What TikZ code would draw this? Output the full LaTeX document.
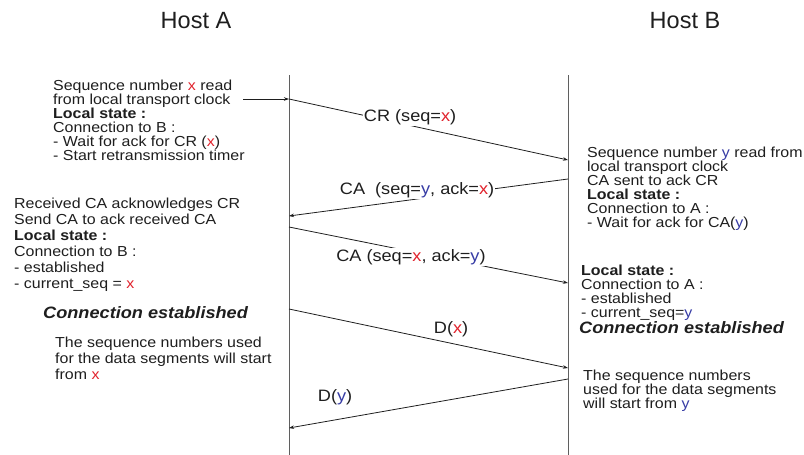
\documentclass[tikz,border=0pt]{standalone}
\usepackage{fontspec}
\setmainfont{Liberation Sans}
\newfontfamily\bodyfont[FakeStretch=1.1]{Liberation Sans}
\usetikzlibrary{arrows.meta}

\definecolor{ink}{RGB}{30,30,30}
\definecolor{seqred}{RGB}{225,35,45}
\definecolor{seqblue}{RGB}{55,60,165}
\definecolor{lifegray}{RGB}{95,95,95}
\newcommand{\seqx}{\textcolor{seqred}{x}}
\newcommand{\seqy}{\textcolor{seqblue}{y}}

\tikzset{
  host/.style={font=\fontsize{23.5}{26}\selectfont, text=ink},
  note/.style={anchor=north west, inner sep=0pt, align=left, text=ink,
    font=\bodyfont\fontsize{14.5}{14}\selectfont},
  loose/.style={font=\bodyfont\fontsize{14.5}{16}\selectfont},
  est/.style={anchor=north west, inner sep=0pt, text=ink,
    font=\bodyfont\fontsize{16.5}{18}\selectfont\bfseries\itshape},
  msg/.style={font=\bodyfont\fontsize{16.5}{18}\selectfont, text=ink,
    fill=white, inner sep=1pt},
  lifeline/.style={draw=lifegray, line width=1pt},
  seg/.style={draw=ink, line width=0.8pt}
}

\begin{document}
\begin{tikzpicture}[x=1pt, y=-1pt, >={Stealth[length=5pt, width=3.5pt]}]
  \useasboundingbox (0,0) rectangle (804,455);
  \node[host] (hA) at (196,21) {Host A};
  \node[host] (hB) at (685,21) {Host B};
  % lifelines
  \coordinate (topA) at (289,75); \coordinate (botA) at (289,455);
  \coordinate (topB) at (568,75); \coordinate (botB) at (568,455);
  \draw[lifeline] (topA) -- (botA);
  \draw[lifeline] (topB) -- (botB);
  % points where the segments leave and reach the hosts
  \coordinate (a0) at (243,99);
  \coordinate (a1) at (289,99); \coordinate (b1) at (568,160);
  \coordinate (b2) at (568,179); \coordinate (a2) at (289,216);
  \coordinate (a3) at (289,227); \coordinate (b3) at (568,283);
  \coordinate (a4) at (289,309); \coordinate (b4) at (568,368);
  \coordinate (b5) at (568,379); \coordinate (a5) at (289,428);
  % host A side
  \node[note] (sendA) at (53,80) {Sequence number \seqx{} read\\
    from local transport clock\\ \textbf{Local state :}\\ Connection to B :\\
    - Wait for ack for CR (\seqx)\\ - Start retransmission timer};
  \node[note, loose] (ackA) at (14,197.5) {Received CA acknowledges CR\\
    Send CA to ack received CA\\ \textbf{Local state :}\\ Connection to B :\\
    - established\\ - current\_seq = \seqx};
  \node[est] (estA) at (43,306) {Connection established};
  \node[note, loose] (dataA) at (55,336.5) {The sequence numbers used\\
    for the data segments will start\\ from \seqx};
  % host B side
  \node[note] (recvB) at (587,146.5) {Sequence number \seqy{} read from\\
    local transport clock\\ CA sent to ack CR\\ \textbf{Local state :}\\
    Connection to A :\\ - Wait for ack for CA(\seqy)};
  \node[note] (stateB) at (581,264.5) {\textbf{Local state :}\\
    Connection to A :\\ - established\\ - current\_seq=\seqy};
  \node[est] (estB) at (579,321) {Connection established};
  \node[note] (dataB) at (583,370) {The sequence numbers\\
    used for the data segments\\ will start from \seqy};
  % segments
  \draw[->, seg] (a0) -- (a1);
  \draw[->, seg] (a1) -- (b1) node[msg, pos=0.434, yshift=8.5pt] (cr) {CR (seq=\seqx)};
  \draw[->, seg] (b2) -- (a2) node[msg, pos=0.541, yshift=9pt] (ca1) {CA~~(seq=\seqy, ack=\seqx)};
  \draw[->, seg] (a3) -- (b3) node[msg, pos=0.437, yshift=-5.5pt] (ca2) {CA (seq=\seqx, ack=\seqy)};
  \draw[->, seg] (a4) -- (b4) node[msg, pos=0.581, yshift=14.3pt] (dx) {D(\seqx)};
  \draw[->, seg] (b5) -- (a5) node[msg, pos=0.835, yshift=23pt] (dy) {D(\seqy)};
\end{tikzpicture}
\end{document}
